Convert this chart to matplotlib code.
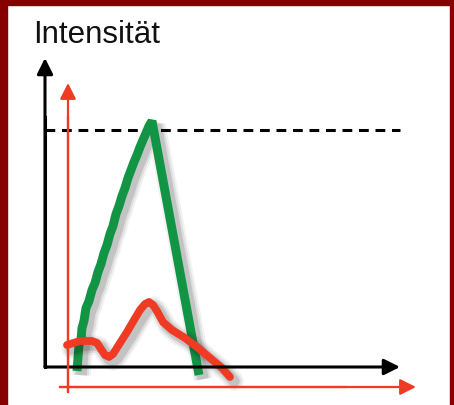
import matplotlib
matplotlib.use("Agg")
import matplotlib.pyplot as plt
import matplotlib.patheffects as pe
from matplotlib.patches import Rectangle

# data units: origin at the corner of the black axes
title = "Intensität"

green_x = [32, 34, 36, 37, 39, 41, 44, 47, 50, 53, 56, 59, 62, 65, 68, 71, 74,
           77, 80, 83, 86, 89, 92, 95, 98, 101, 104, 107, 154]
green_y = [-4, 22, 27, 39, 46, 59, 66, 77, 84, 95, 103, 114, 122, 133, 141, 153, 161,
           171, 179, 189, 197, 205, 212, 220, 227, 234, 241, 246, -8]

red_x = [22, 35, 47, 52, 56, 60, 64, 68, 75, 82, 89, 95, 100, 104, 108, 112,
         118, 127, 140, 152, 165, 177, 185]
red_y = [22, 26, 26, 24, 18, 12, 10, 13, 24, 35, 47, 57, 63, 65, 62, 56,
         45, 37, 29, 20, 9, -1, -10]

threshold = 237

GREEN = "#129445"
RED = "#ef3b24"
BORDER = "#870000"

fig = plt.figure(figsize=(4.54, 4.05), dpi=100)
ax = fig.add_axes([0, 0, 1, 1])
ax.set_xlim(-45, 409)
ax.set_ylim(-38, 367)
ax.axis("off")

def arrow(x0, y0, x1, y1, color, lw, ms):
    ax.annotate("", xy=(x1, y1), xytext=(x0, y0),
                arrowprops=dict(arrowstyle="-|>", color=color, lw=lw,
                                mutation_scale=ms, shrinkA=0, shrinkB=0))

# black axes
ax.plot([0, 0], [0, 250], color="black", lw=2.2, solid_capstyle="projecting")
arrow(0, 0, 0, 309, "black", 2.2, 24)
arrow(0, 0, 355, 0, "black", 2.2, 24)

# red axes
ax.plot([23, 23], [-25, 250], color=RED, lw=1.6)
arrow(23, -25, 23, 284, RED, 1.6, 24)
ax.plot([15, 300], [-20, -20], color=RED, lw=1.6)
arrow(15, -20, 371, -20, RED, 1.6, 24)

# threshold
ax.plot([0, 355], [threshold, threshold], color="black", lw=2.2,
        linestyle=(0, (3.2, 2.2)))

shadow = [pe.SimpleLineShadow(offset=(3, -3), shadow_color="black", alpha=0.05, linewidth=14),
          pe.SimpleLineShadow(offset=(3, -3), shadow_color="black", alpha=0.08, linewidth=11),
          pe.SimpleLineShadow(offset=(3, -3), shadow_color="black", alpha=0.12, linewidth=8),
          pe.Normal()]

ax.plot(green_x, green_y, color=GREEN, lw=6.4, solid_joinstyle="bevel",
        solid_capstyle="butt", path_effects=shadow)
ax.plot(red_x, red_y, color=RED, lw=5.6, solid_joinstyle="round",
        solid_capstyle="round", path_effects=shadow)

ax.text(-12, 324, title, fontsize=22.5, family=["Liberation Sans", "DejaVu Sans"],
        color="#111111", va="baseline", ha="left")

# dark red frame
for x, y, w, h in [(0, 0, 7 / 454, 1), (0, 400 / 405, 1, 5 / 405),
                   (450 / 454, 0, 4 / 454, 1)]:
    fig.patches.append(Rectangle((x, y), w, h, transform=fig.transFigure,
                                 color=BORDER, zorder=10))

fig.savefig("out.png", dpi=100)
